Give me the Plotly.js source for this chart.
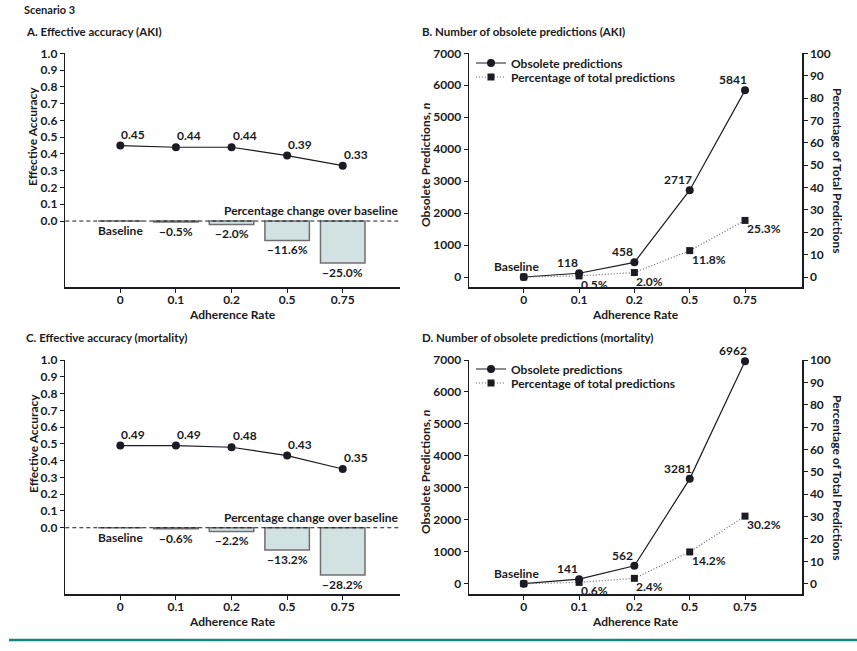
<!DOCTYPE html>
<html>
<head>
<meta charset="utf-8">
<script src="https://cdn.plot.ly/plotly-3.0.1.min.js"></script>
<style>
html,body{margin:0;padding:0;background:#fff;}
#chart{width:857px;height:651px;}
</style>
</head>
<body>
<div id="chart"></div>
<script>
// ---------- data ----------
const categories = ['0', '0.1', '0.2', '0.5', '0.75'];
const accuracyAKI = [0.45, 0.44, 0.44, 0.39, 0.33];
const changeAKI = [0, -0.5, -2.0, -11.6, -25.0];
const obsoleteAKI = [0, 118, 458, 2717, 5841];
const percentAKI = [0, 0.5, 2.0, 11.8, 25.3];
const accuracyMort = [0.49, 0.49, 0.48, 0.43, 0.35];
const changeMort = [0, -0.6, -2.2, -13.2, -28.2];
const obsoleteMort = [0, 141, 562, 3281, 6962];
const percentMort = [0, 0.6, 2.4, 14.2, 30.2];
const accuracyTicks = [0, 0.1, 0.2, 0.3, 0.4, 0.5, 0.6, 0.7, 0.8, 0.9, 1.0];
const obsoleteTicks = [0, 1000, 2000, 3000, 4000, 5000, 6000, 7000];
const percentTicks = [0, 10, 20, 30, 40, 50, 60, 70, 80, 90, 100];

// ---------- styling ----------
const FONT = 'Lato, "DejaVu Sans Condensed", sans-serif';
const INK = '#1b1b22';
const W = 857, H = 651;
const px = v => v / W;
const py = v => 1 - v / H;
const F = (size) => ({family: FONT, size: size, color: INK, weight: 'bold'});

const dom = {
  leftX: [px(65.3), px(400)],
  rightX: [px(469), px(802)],
  topY: [py(287.3), py(53.3)],
  botY: [py(594), py(360)]
};

function fmtChange(v) {
  return v === 0 ? 'Baseline' : '\u2212' + Math.abs(v).toFixed(1) + '%';
}

const traces = [];
const annotations = [];

function accuracyPanel(xr, yr, acc, change) {
  traces.push({
    type: 'bar', x: categories, y: change.map(v => v / 100),
    xaxis: xr, yaxis: yr, width: 0.8,
    marker: {color: '#d2e2e3', line: {color: '#6f6f6f', width: 1.5}},
    showlegend: false, hoverinfo: 'skip'
  });
  traces.push({
    type: 'scatter', mode: 'lines+markers', x: categories, y: acc,
    xaxis: xr, yaxis: yr, cliponaxis: false,
    line: {color: INK, width: 1.2},
    marker: {symbol: 'circle', size: 8, color: INK},
    showlegend: false
  });
  categories.forEach((c, i) => {
    annotations.push({
      xref: xr, yref: yr, x: i, y: acc[i], text: acc[i].toFixed(2),
      showarrow: false, xanchor: 'center', yanchor: 'bottom', xshift: 13, yshift: 2,
      font: F(12)
    });
    annotations.push({
      xref: xr, yref: yr, x: i, y: change[i] / 100, text: fmtChange(change[i]),
      showarrow: false, xanchor: 'center', yanchor: 'top', yshift: 0,
      font: F(12)
    });
  });
  annotations.push({
    xref: xr + ' domain', yref: yr, x: 1, y: 0, text: 'Percentage change over baseline',
    showarrow: false, xanchor: 'right', yanchor: 'bottom', yshift: 1,
    font: F(12)
  });
}

function obsoletePanel(xr, yL, yR, obs, pct, legA, legB) {
  traces.push({
    type: 'scatter', mode: 'lines+markers', x: categories, y: obs,
    xaxis: xr, yaxis: yL, name: 'Obsolete predictions', legend: legA, cliponaxis: false,
    line: {color: INK, width: 1.2},
    marker: {symbol: 'circle', size: 8, color: INK}
  });
  traces.push({
    type: 'scatter', mode: 'lines+markers', x: categories, y: pct,
    xaxis: xr, yaxis: yR, name: 'Percentage of total predictions', legend: legB, cliponaxis: false,
    line: {color: '#666', width: 1.2, dash: '1px,2px'},
    marker: {symbol: 'square', size: 7, color: INK}
  });
  categories.forEach((c, i) => {
    annotations.push({
      xref: xr, yref: yL, x: i, y: obs[i], text: i === 0 ? 'Baseline' : String(obs[i]),
      showarrow: false, xanchor: 'center', yanchor: 'bottom', xshift: i === 0 ? -7 : -12, yshift: 1,
      font: F(12)
    });
    if (i > 0) {
      annotations.push({
        xref: xr, yref: yR, x: i, y: pct[i], text: pct[i].toFixed(1) + '%',
        showarrow: false, xanchor: 'left', yanchor: 'top', xshift: 0, yshift: 1,
        font: F(12)
      });
    }
  });
}

accuracyPanel('x', 'y', accuracyAKI, changeAKI);
obsoletePanel('x2', 'y2', 'y3', obsoleteAKI, percentAKI, 'legend', 'legend2');
accuracyPanel('x3', 'y4', accuracyMort, changeMort);
obsoletePanel('x4', 'y5', 'y6', obsoleteMort, percentMort, 'legend3', 'legend4');

const tickFont = F(12);
function xAxis(domain, anchor) {
  return {
    domain: domain, anchor: anchor, type: 'category', range: [-0.99, 5.03],
    showline: true, linecolor: INK, linewidth: 1.5, mirror: false,
    ticks: 'outside', ticklen: 4, tickcolor: INK, tickwidth: 1, ticklabelstandoff: -3,
    showgrid: false, zeroline: false, tickfont: tickFont, fixedrange: true,
    title: {text: 'Adherence Rate', font: F(12), standoff: 0}
  };
}
function yAxis(domain, anchor, range, ticks, fmt, side, overlaying) {
  const a = {
    domain: domain, anchor: anchor, range: range, tickvals: ticks, tickformat: fmt,
    showline: true, linecolor: INK, linewidth: 1.5,
    ticks: 'outside', ticklen: 4, tickcolor: INK, tickwidth: 1,
    showgrid: false, zeroline: false, tickfont: tickFont, fixedrange: true
  };
  if (side) a.side = side;
  if (overlaying) a.overlaying = overlaying;
  return a;
}

function paperText(text, x, y, opts) {
  annotations.push(Object.assign({
    xref: 'paper', yref: 'paper', x: px(x), y: py(y), text: text, showarrow: false,
    xanchor: 'left', yanchor: 'middle', font: F(12)
  }, opts || {}));
}
paperText('Scenario 3', 22, 10, {font: F(11)});
paperText('A. Effective accuracy (AKI)', 24, 31, {font: F(11.5)});
paperText('B. Number of obsolete predictions (AKI)', 420, 31, {font: F(11.5)});
paperText('C. Effective accuracy (mortality)', 24, 337, {font: F(11.5)});
paperText('D. Number of obsolete predictions (mortality)', 420, 337, {font: F(11.5)});
// rotated y-axis titles
paperText('Effective Accuracy', 33, 137, {xanchor: 'center', textangle: -90});
paperText('Effective Accuracy', 33, 444, {xanchor: 'center', textangle: -90});
paperText('Obsolete Predictions, <i>n</i>', 425, 165, {xanchor: 'center', textangle: -90});
paperText('Obsolete Predictions, <i>n</i>', 425, 472, {xanchor: 'center', textangle: -90});
paperText('Percentage of Total Predictions', 838, 170, {xanchor: 'center', textangle: 90});
paperText('Percentage of Total Predictions', 838, 477, {xanchor: 'center', textangle: 90});

const legendStyle = (cy) => ({
  x: px(471), y: py(cy), xanchor: 'left', yanchor: 'middle',
  bgcolor: 'rgba(0,0,0,0)', borderwidth: 0, itemwidth: 30,
  font: F(12), tracegroupgap: 0
});

const layout = {
  width: W, height: H,
  margin: {l: 0, r: 0, t: 0, b: 0},
  paper_bgcolor: '#fff', plot_bgcolor: 'rgba(0,0,0,0)',
  font: {family: FONT, color: INK},
  barmode: 'overlay',
  xaxis: xAxis(dom.leftX, 'y'),
  yaxis: yAxis(dom.topY, 'x', [-0.395, 1.0], accuracyTicks, '.1f'),
  xaxis2: xAxis(dom.rightX, 'y2'),
  yaxis2: yAxis(dom.topY, 'x2', [-322, 7000], obsoleteTicks, 'd'),
  yaxis3: yAxis(dom.topY, 'x2', [-4.6, 100], percentTicks, 'd', 'right', 'y2'),
  xaxis3: xAxis(dom.leftX, 'y4'),
  yaxis4: yAxis(dom.botY, 'x3', [-0.395, 1.0], accuracyTicks, '.1f'),
  xaxis4: xAxis(dom.rightX, 'y5'),
  yaxis5: yAxis(dom.botY, 'x4', [-322, 7000], obsoleteTicks, 'd'),
  yaxis6: yAxis(dom.botY, 'x4', [-4.6, 100], percentTicks, 'd', 'right', 'y5'),
  legend: legendStyle(63),
  legend2: legendStyle(77),
  legend3: legendStyle(369),
  legend4: legendStyle(383),
  shapes: [
    {type: 'line', xref: 'x domain', yref: 'y', x0: 0, x1: 1, y0: 0, y1: 0, line: {color: INK, width: 1, dash: '4px,3px'}},
    {type: 'line', xref: 'x3 domain', yref: 'y4', x0: 0, x1: 1, y0: 0, y1: 0, line: {color: INK, width: 1, dash: '4px,3px'}},
    {type: 'line', xref: 'paper', yref: 'paper', x0: px(9), x1: 1, y0: py(640), y1: py(640), line: {color: '#14857f', width: 2.5}}
  ],
  annotations: annotations,
  showlegend: true
};

Plotly.newPlot('chart', traces, layout, {displayModeBar: false, staticPlot: true});
</script>
</body>
</html>
